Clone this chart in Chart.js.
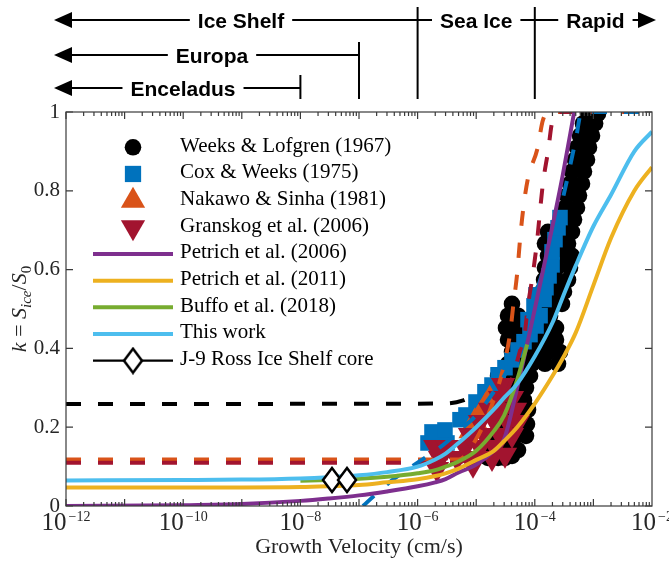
<!DOCTYPE html>
<html><head><meta charset="utf-8">
<script src="https://cdn.jsdelivr.net/npm/chart.js@4.4.0/dist/chart.umd.min.js"></script>
<style>html,body{margin:0;padding:0;background:#fff;}#wrap{width:669px;height:562px;}</style>
</head><body><div id="wrap"><canvas id="c" width="669" height="562"></canvas></div>
<script>
// ---------- data (x = growth velocity in cm/s, y = k) ----------
const legendLabels = ['Weeks & Lofgren (1967)','Cox & Weeks (1975)','Nakawo & Sinha (1981)','Granskog et al. (2006)','Petrich et al. (2006)','Petrich et al. (2011)','Buffo et al. (2018)','This work','J-9 Ross Ice Shelf core'];
const xTickExponents = [-12,-10,-8,-6,-4,-2];
const yTickValues = [0,0.2,0.4,0.6,0.8,1];
const yTickLabels = ['0','0.2','0.4','0.6','0.8','1'];
const regimeLabels = ['Ice Shelf','Sea Ice','Rapid'];
const bodyLabels = ['Europa','Enceladus'];

const weeksLofgren = [
  [1.59e-5,.122],[2.36e-5,.122],[3.10e-5,.122],[4.08e-5,.127],
  [1.72e-5,.147],[2.76e-5,.147],[4.08e-5,.147],[5.17e-5,.142],
  [2.01e-5,.178],[3.10e-5,.178],[4.78e-5,.178],[7.07e-5,.178],
  [2.55e-5,.208],[4.08e-5,.208],[6.05e-5,.208],[7.36e-5,.208],
  [2.36e-5,.239],[3.77e-5,.239],[6.05e-5,.239],[7.66e-5,.244],
  [2.55e-5,.269],[4.08e-5,.269],[6.54e-5,.269],
  [2.76e-5,.30],[4.42e-5,.30],[7.07e-5,.30],
  [2.36e-5,.33],[3.77e-5,.33],[6.05e-5,.33],[8.28e-5,.33],
  [3.49e-5,.361],[5.59e-5,.361],[8.96e-5,.361],[1.49e-4,.361],[2.49e-4,.361],
  [4.08e-5,.391],[6.54e-5,.391],[1.05e-4,.391],[1.68e-4,.391],[2.69e-4,.391],
  [3.49e-5,.422],[5.59e-5,.422],[8.96e-5,.422],[1.44e-4,.422],[2.30e-4,.422],
  [3.22e-5,.452],[5.17e-5,.452],[9.69e-5,.452],[1.55e-4,.452],[2.30e-4,.452],
  [3.49e-5,.483],[5.17e-5,.483],[1.13e-4,.483],[1.82e-4,.483],
  [4.08e-5,.513],[1.23e-4,.513],[1.97e-4,.513],[2.91e-4,.513],
  [1.33e-4,.544],[2.13e-4,.544],[3.15e-4,.544],
  [1.44e-4,.574],[2.30e-4,.574],[3.69e-4,.574],
  [1.49e-4,.605],[2.39e-4,.605],[3.99e-4,.605],
  [1.68e-4,.635],[2.69e-4,.635],[4.31e-4,.635],
  [1.49e-4,.666],[2.39e-4,.666],[3.69e-4,.666],
  [1.68e-4,.696],[2.69e-4,.696],[4.31e-4,.696],
  [2.91e-4,.727],[4.67e-4,.727],
  [3.28e-4,.757],[5.25e-4,.757],
  [3.54e-4,.788],[5.68e-4,.788],
  [3.99e-4,.818],[6.39e-4,.818],
  [4.31e-4,.849],[6.91e-4,.849],
  [4.85e-4,.879],[7.78e-4,.879],
  [5.25e-4,.91],[8.41e-4,.91],
  [5.91e-4,.94],[9.47e-4,.94],
  [6.64e-4,.971],[1.07e-3,.971],
  [8.09e-4,.996],[1.20e-3,.996]
];
const coxWeeks = [[1.505e-6,.160],[2.23e-6,.173],[3.17e-6,.160],[1.76e-6,.188],[2.93e-6,.193],[5.29e-6,.219],[6.69e-6,.231],[9.92e-6,.264],[1.41e-5,.290],[1.86e-5,.307],[2.36e-5,.333],[3.10e-5,.351],[4.08e-5,.371],[5.17e-5,.396],[6.54e-5,.417],[8.28e-5,.435],[1.05e-4,.457],[7.66e-5,.473],[1.23e-4,.483],[9.69e-5,.508],[1.05e-4,.536],[1.44e-4,.524],[1.55e-4,.554],[1.75e-4,.584],[1.97e-4,.612],[1.97e-4,.645],[2.21e-4,.676],[2.49e-4,.706],[2.69e-4,.732]];
const nakawoSinha = [[8.0e-6,0.19],[9.5e-6,0.215],[1.2e-5,0.235],[1.45e-5,0.255],[1.7e-5,0.272]];
const granskog = [[2.0e-6,.15],[3.17e-6,.15],[6.44e-6,.15],[1.16e-5,.15],[2.09e-5,.15],[2.41e-6,.122],[4.70e-6,.122],[9.54e-6,.122],[1.86e-5,.122],[2.14e-6,.094],[8.82e-6,.105],[7.84e-6,.18],[1.41e-5,.18],[2.55e-5,.18],[4.08e-5,.18],[1.16e-5,.213],[2.09e-5,.213],[3.49e-5,.213],[5.17e-5,.213],[1.72e-5,.244],[2.87e-5,.244],[4.59e-5,.244],[2.55e-5,.274],[4.08e-5,.274],[2.87e-5,.307],[3.10e-5,.13]];
const rossCore = [[3.46e-8,0.066],[6.24e-8,0.066]];

const curveX = [1e-12,1e-10,1e-9,1e-8,3e-8,1e-7,3e-7,1e-6,2e-6,3e-6,5e-6,1e-5,2e-5,3e-5,5e-5,1e-4,2e-4,3e-4,5e-4,1e-3,2e-3,5e-3,1e-2];
const thisWorkY   = [0.065,0.066,0.067,0.070,0.073,0.078,0.086,0.10,0.118,0.133,0.16,0.20,0.245,0.275,0.31,0.38,0.465,0.53,0.61,0.71,0.79,0.90,0.95];
const petrich2011Y = [0.047,0.047,0.047,0.048,0.05,0.053,0.06,0.068,0.076,0.083,0.095,0.117,0.14,0.165,0.20,0.26,0.33,0.375,0.44,0.56,0.68,0.80,0.86];
const petrich2006X = [1e-12,1e-10,1e-9,1e-8,3e-8,1e-7,3e-7,1e-6,2e-6,3e-6,5e-6,1e-5,2e-5,3e-5,5e-5,1e-4,2e-4,3e-4,4.7e-4];
const petrich2006Y = [0,0.002,0.005,0.013,0.019,0.027,0.037,0.05,0.06,0.068,0.085,0.105,0.14,0.17,0.30,0.50,0.71,0.84,1.0];
const buffoX = [1e-8,3e-8,1e-7,3e-7,1e-6,2e-6,3e-6,5e-6,1e-5,2e-5,3e-5,5e-5,7.4e-5];
const buffoY = [0.064,0.066,0.069,0.074,0.083,0.091,0.10,0.113,0.14,0.19,0.23,0.32,0.41];
const coxFitX = [1.17e-7,3e-7,1e-6,2e-6,3e-6,5e-6,1e-5,2e-5,3e-5,5e-5,1e-4,2e-4,3e-4,5e-4,6.3e-4,1e-3,1e-2];
const coxFitY = [0,0.055,0.11,0.14,0.16,0.19,0.23,0.29,0.33,0.40,0.53,0.68,0.78,0.93,1.0,1.0,1.0];
const nakawoFitX = [1e-12,5e-6,1e-5,2e-5,3e-5,3.8e-5,4.27e-5,5e-5,5.6e-5,6.3e-5,7.6e-5,1.1e-4,1.38e-4,1.82e-4,1e-2];
const nakawoFitY = [0.118,0.118,0.17,0.27,0.36,0.44,0.506,0.59,0.676,0.75,0.83,0.905,0.98,1.0,1.0];
const granskogFitX = [1e-12,5e-6,1e-5,2e-5,4e-5,5.5e-5,6.76e-5,7.6e-5,9.3e-5,1.1e-4,1.23e-4,1.38e-4,1.7e-4,1.95e-4,2.5e-4,1e-2];
const granskogFitY = [0.110,0.110,0.15,0.22,0.32,0.39,0.44,0.506,0.59,0.676,0.75,0.82,0.905,0.97,1.0,1.0];
const weeksFitX = [1e-12,3e-6,6e-6,1e-5];
const weeksFitY = [0.259,0.260,0.268,0.285];

// ---------- helpers ----------
const pairs = a => a.map(p => ({x:p[0], y:p[1]}));
const zip = (xs, ys) => xs.map((x,i) => ({x:x, y:ys[i]}));
const C = {black:'#000000', blue:'#0072BD', orange:'#D95319', yellow:'#EDB120', purple:'#7E2F8E', green:'#77AC30', cyan:'#4DBEEE', red:'#A2142F'};

function diamondImg(){
  const c = document.createElement('canvas'); c.width = 22; c.height = 28;
  const g = c.getContext('2d');
  g.beginPath(); g.moveTo(11,2); g.lineTo(20,14); g.lineTo(11,26); g.lineTo(2,14); g.closePath();
  g.fillStyle = '#fff'; g.fill(); g.lineWidth = 2.5; g.strokeStyle = '#000'; g.stroke();
  return c;
}
const diamond = diamondImg();

function lineDs(label, data, color, order, dash){
  return {label, data, showLine:true, borderColor:color, backgroundColor:color, borderWidth:4,
    borderDash: dash ? [15,17] : [], pointRadius:0, cubicInterpolationMode:'monotone', order, borderCapStyle:'butt'};
}

const datasets = [
  {label:legendLabels[0], data:pairs(weeksLofgren), pointStyle:'circle', pointRadius:8.3, backgroundColor:C.black, borderWidth:0, order:90},
  {label:legendLabels[1], data:pairs(coxWeeks), pointStyle:'rect', pointRadius:11, backgroundColor:C.blue, borderWidth:0, order:80},
  {label:legendLabels[2], data:pairs(nakawoSinha), pointStyle:'triangle', pointRadius:14, backgroundColor:C.orange, borderWidth:0, order:70},
  {label:legendLabels[3], data:pairs(granskog), pointStyle:'triangle', rotation:180, pointRadius:14, backgroundColor:C.red, borderWidth:0, order:60},
  lineDs('Weeks fit', zip(weeksFitX, weeksFitY), C.black, 100, true),
  lineDs('Nakawo fit', zip(nakawoFitX, nakawoFitY), C.orange, 50, true),
  lineDs('Granskog fit', zip(granskogFitX, granskogFitY), C.red, 45, true),
  lineDs('Cox fit', zip(coxFitX, coxFitY), C.blue, 40, true),
  lineDs(legendLabels[4], zip(petrich2006X, petrich2006Y), C.purple, 30, false),
  lineDs(legendLabels[5], zip(curveX, petrich2011Y), C.yellow, 25, false),
  lineDs(legendLabels[6], zip(buffoX, buffoY), C.green, 20, false),
  lineDs(legendLabels[7], zip(curveX, thisWorkY), C.cyan, 15, false),
  {label:legendLabels[8], data:pairs(rossCore), pointStyle:diamond, pointRadius:10, backgroundColor:'#fff', borderColor:'#000', order:5}
];

const legendItems = [
  {kind:'point', style:'circle', r:8.3, color:C.black},
  {kind:'point', style:'rect', r:11.5, color:C.blue},
  {kind:'point', style:'triangle', r:14, color:C.orange},
  {kind:'point', style:'triangle', r:14, rot:180, color:C.red},
  {kind:'line', color:C.purple},
  {kind:'line', color:C.yellow},
  {kind:'line', color:C.green},
  {kind:'line', color:C.cyan},
  {kind:'diamond'}
];

const SERIF = '"Liberation Serif", "Times New Roman", serif';
const SANS = '"Liberation Sans", Arial, sans-serif';

function drawMark(ctx, style, r, rot, x, y){
  if (Chart.helpers && Chart.helpers.drawPoint) {
    Chart.helpers.drawPoint(ctx, {pointStyle:style, radius:r, rotation:rot||0, borderWidth:0}, x, y);
  }
}

const decor = {
  id:'decor',
  afterDraw(chart){
    const ctx = chart.ctx, a = chart.chartArea, xs = chart.scales.x, ys = chart.scales.y;
    ctx.save();
    ctx.strokeStyle = '#3a3a3a'; ctx.lineWidth = 1.2;
    ctx.strokeRect(a.left, a.top, a.right - a.left, a.bottom - a.top);
    ctx.beginPath();
    for (let e = -12; e < -2; e++){
      for (let m = 1; m < 10; m++){
        const px = xs.getPixelForValue(m * Math.pow(10, e));
        const len = (m === 1) ? 7 : 4;
        ctx.moveTo(px, a.bottom); ctx.lineTo(px, a.bottom - len);
        ctx.moveTo(px, a.top); ctx.lineTo(px, a.top + len);
      }
    }
    yTickValues.forEach(v => {
      const py = ys.getPixelForValue(v);
      ctx.moveTo(a.left, py); ctx.lineTo(a.left + 7, py);
      ctx.moveTo(a.right, py); ctx.lineTo(a.right - 7, py);
    });
    ctx.stroke();

    ctx.fillStyle = '#262626';
    ctx.font = '21px ' + SERIF; ctx.textAlign = 'right'; ctx.textBaseline = 'middle';
    yTickValues.forEach((v,i) => ctx.fillText(yTickLabels[i], a.left - 6, ys.getPixelForValue(v)));

    ctx.textAlign = 'left'; ctx.textBaseline = 'alphabetic';
    xTickExponents.forEach(e => {
      const px = xs.getPixelForValue(Math.pow(10, e));
      ctx.font = '25px ' + SERIF; const w10 = ctx.measureText('10').width;
      const et = '\u2212' + Math.abs(e);
      ctx.font = '14px ' + SERIF; const we = ctx.measureText(et).width;
      const start = px - (w10 + 2 + we) / 2;
      ctx.font = '25px ' + SERIF; ctx.fillText('10', start, 530);
      ctx.font = '14px ' + SERIF; ctx.fillText(et, start + w10 + 2, 521);
    });

    ctx.font = '22px ' + SERIF; ctx.textAlign = 'center';
    ctx.fillText('Growth Velocity (cm/s)', (a.left + a.right) / 2, 553);

    ctx.save();
    ctx.translate(26, (a.top + a.bottom) / 2); ctx.rotate(-Math.PI / 2);
    const parts = [
      {t:'k', f:'italic 22px ' + SERIF, dy:0},
      {t:' = ', f:'22px ' + SERIF, dy:0},
      {t:'S', f:'italic 22px ' + SERIF, dy:0},
      {t:'ice', f:'italic 15px ' + SERIF, dy:5},
      {t:'/', f:'22px ' + SERIF, dy:0},
      {t:'S', f:'italic 22px ' + SERIF, dy:0},
      {t:'0', f:'15px ' + SERIF, dy:5}
    ];
    let tot = 0;
    parts.forEach(p => { ctx.font = p.f; p.w = ctx.measureText(p.t).width; tot += p.w; });
    let cx = -tot / 2; ctx.textAlign = 'left';
    parts.forEach(p => { ctx.font = p.f; ctx.fillText(p.t, cx, p.dy); cx += p.w; });
    ctx.restore();

    const lx = a.left + 67, rowY0 = a.top + 35.3, dyRow = 26.67;
    legendItems.forEach((it, i) => {
      const y = rowY0 + i * dyRow;
      if (it.kind === 'point'){
        ctx.fillStyle = it.color; drawMark(ctx, it.style, it.r, it.rot, lx, y);
      } else if (it.kind === 'line'){
        ctx.strokeStyle = it.color; ctx.lineWidth = 4; ctx.beginPath();
        ctx.moveTo(lx - 40, y); ctx.lineTo(lx + 40, y); ctx.stroke();
      } else {
        ctx.strokeStyle = '#000'; ctx.lineWidth = 2.2; ctx.beginPath();
        ctx.moveTo(lx - 40, y); ctx.lineTo(lx + 40, y); ctx.stroke();
        ctx.drawImage(diamond, lx - diamond.width / 2, y - diamond.height / 2);
      }
      ctx.fillStyle = '#000'; ctx.font = '21px ' + SERIF; ctx.textAlign = 'left'; ctx.textBaseline = 'alphabetic';
      ctx.fillText(legendLabels[i], lx + 47, y + 4.5);
    });

    const xB = e => xs.getPixelForValue(Math.pow(10, e));
    ctx.strokeStyle = '#000'; ctx.fillStyle = '#000'; ctx.lineWidth = 2;
    ctx.font = 'bold 21px ' + SANS; ctx.textAlign = 'center'; ctx.textBaseline = 'alphabetic';
    const tipL = 54, tipR = 656, gap = 8;
    const hline = (x1, x2, y) => { ctx.beginPath(); ctx.moveTo(x1, y); ctx.lineTo(x2, y); ctx.stroke(); };
    const vline = (x, y1, y2) => { ctx.beginPath(); ctx.moveTo(x, y1); ctx.lineTo(x, y2); ctx.stroke(); };
    const headL = y => { ctx.beginPath(); ctx.moveTo(tipL, y); ctx.lineTo(tipL + 18, y - 8); ctx.lineTo(tipL + 18, y + 8); ctx.closePath(); ctx.fill(); };
    const headR = y => { ctx.beginPath(); ctx.moveTo(tipR, y); ctx.lineTo(tipR - 18, y - 8); ctx.lineTo(tipR - 18, y + 8); ctx.closePath(); ctx.fill(); };
    const label = (t, cxp, y) => { const w = ctx.measureText(t).width; ctx.fillText(t, cxp, y + 7.5); return [cxp - w/2 - gap, cxp + w/2 + gap]; };

    let y = 20; const b6 = xB(-6), b4 = xB(-4);
    headL(y);
    let s = label(regimeLabels[0], 241, y); hline(tipL + 10, s[0], y); hline(s[1], b6, y);
    s = label(regimeLabels[1], (b6 + b4) / 2, y); hline(b6, s[0], y); hline(s[1], b4, y);
    s = label(regimeLabels[2], (b4 + tipR) / 2, y); hline(b4, s[0], y); hline(s[1], tipR - 10, y);
    headR(y);
    vline(b6, 7, 99); vline(b4, 7, 99);
    y = 55; const b7 = xB(-7);
    headL(y); s = label(bodyLabels[0], 212, y); hline(tipL + 10, s[0], y); hline(s[1], b7, y); vline(b7, 42, 99);
    y = 88; const b8 = xB(-8);
    headL(y); s = label(bodyLabels[1], 183, y); hline(tipL + 10, s[0], y); hline(s[1], b8, y); vline(b8, 75, 99);

    ctx.restore();
  }
};

new Chart(document.getElementById('c'), {
  type:'scatter',
  data:{datasets},
  options:{
    responsive:false, devicePixelRatio:1, animation:false, events:[],
    layout:{padding:{left:66, right:17, top:112, bottom:56}},
    scales:{
      x:{type:'logarithmic', min:1e-12, max:1e-2, display:false},
      y:{type:'linear', min:0, max:1, display:false}
    },
    plugins:{legend:{display:false}, tooltip:{enabled:false}}
  },
  plugins:[decor]
});
</script></body></html>
